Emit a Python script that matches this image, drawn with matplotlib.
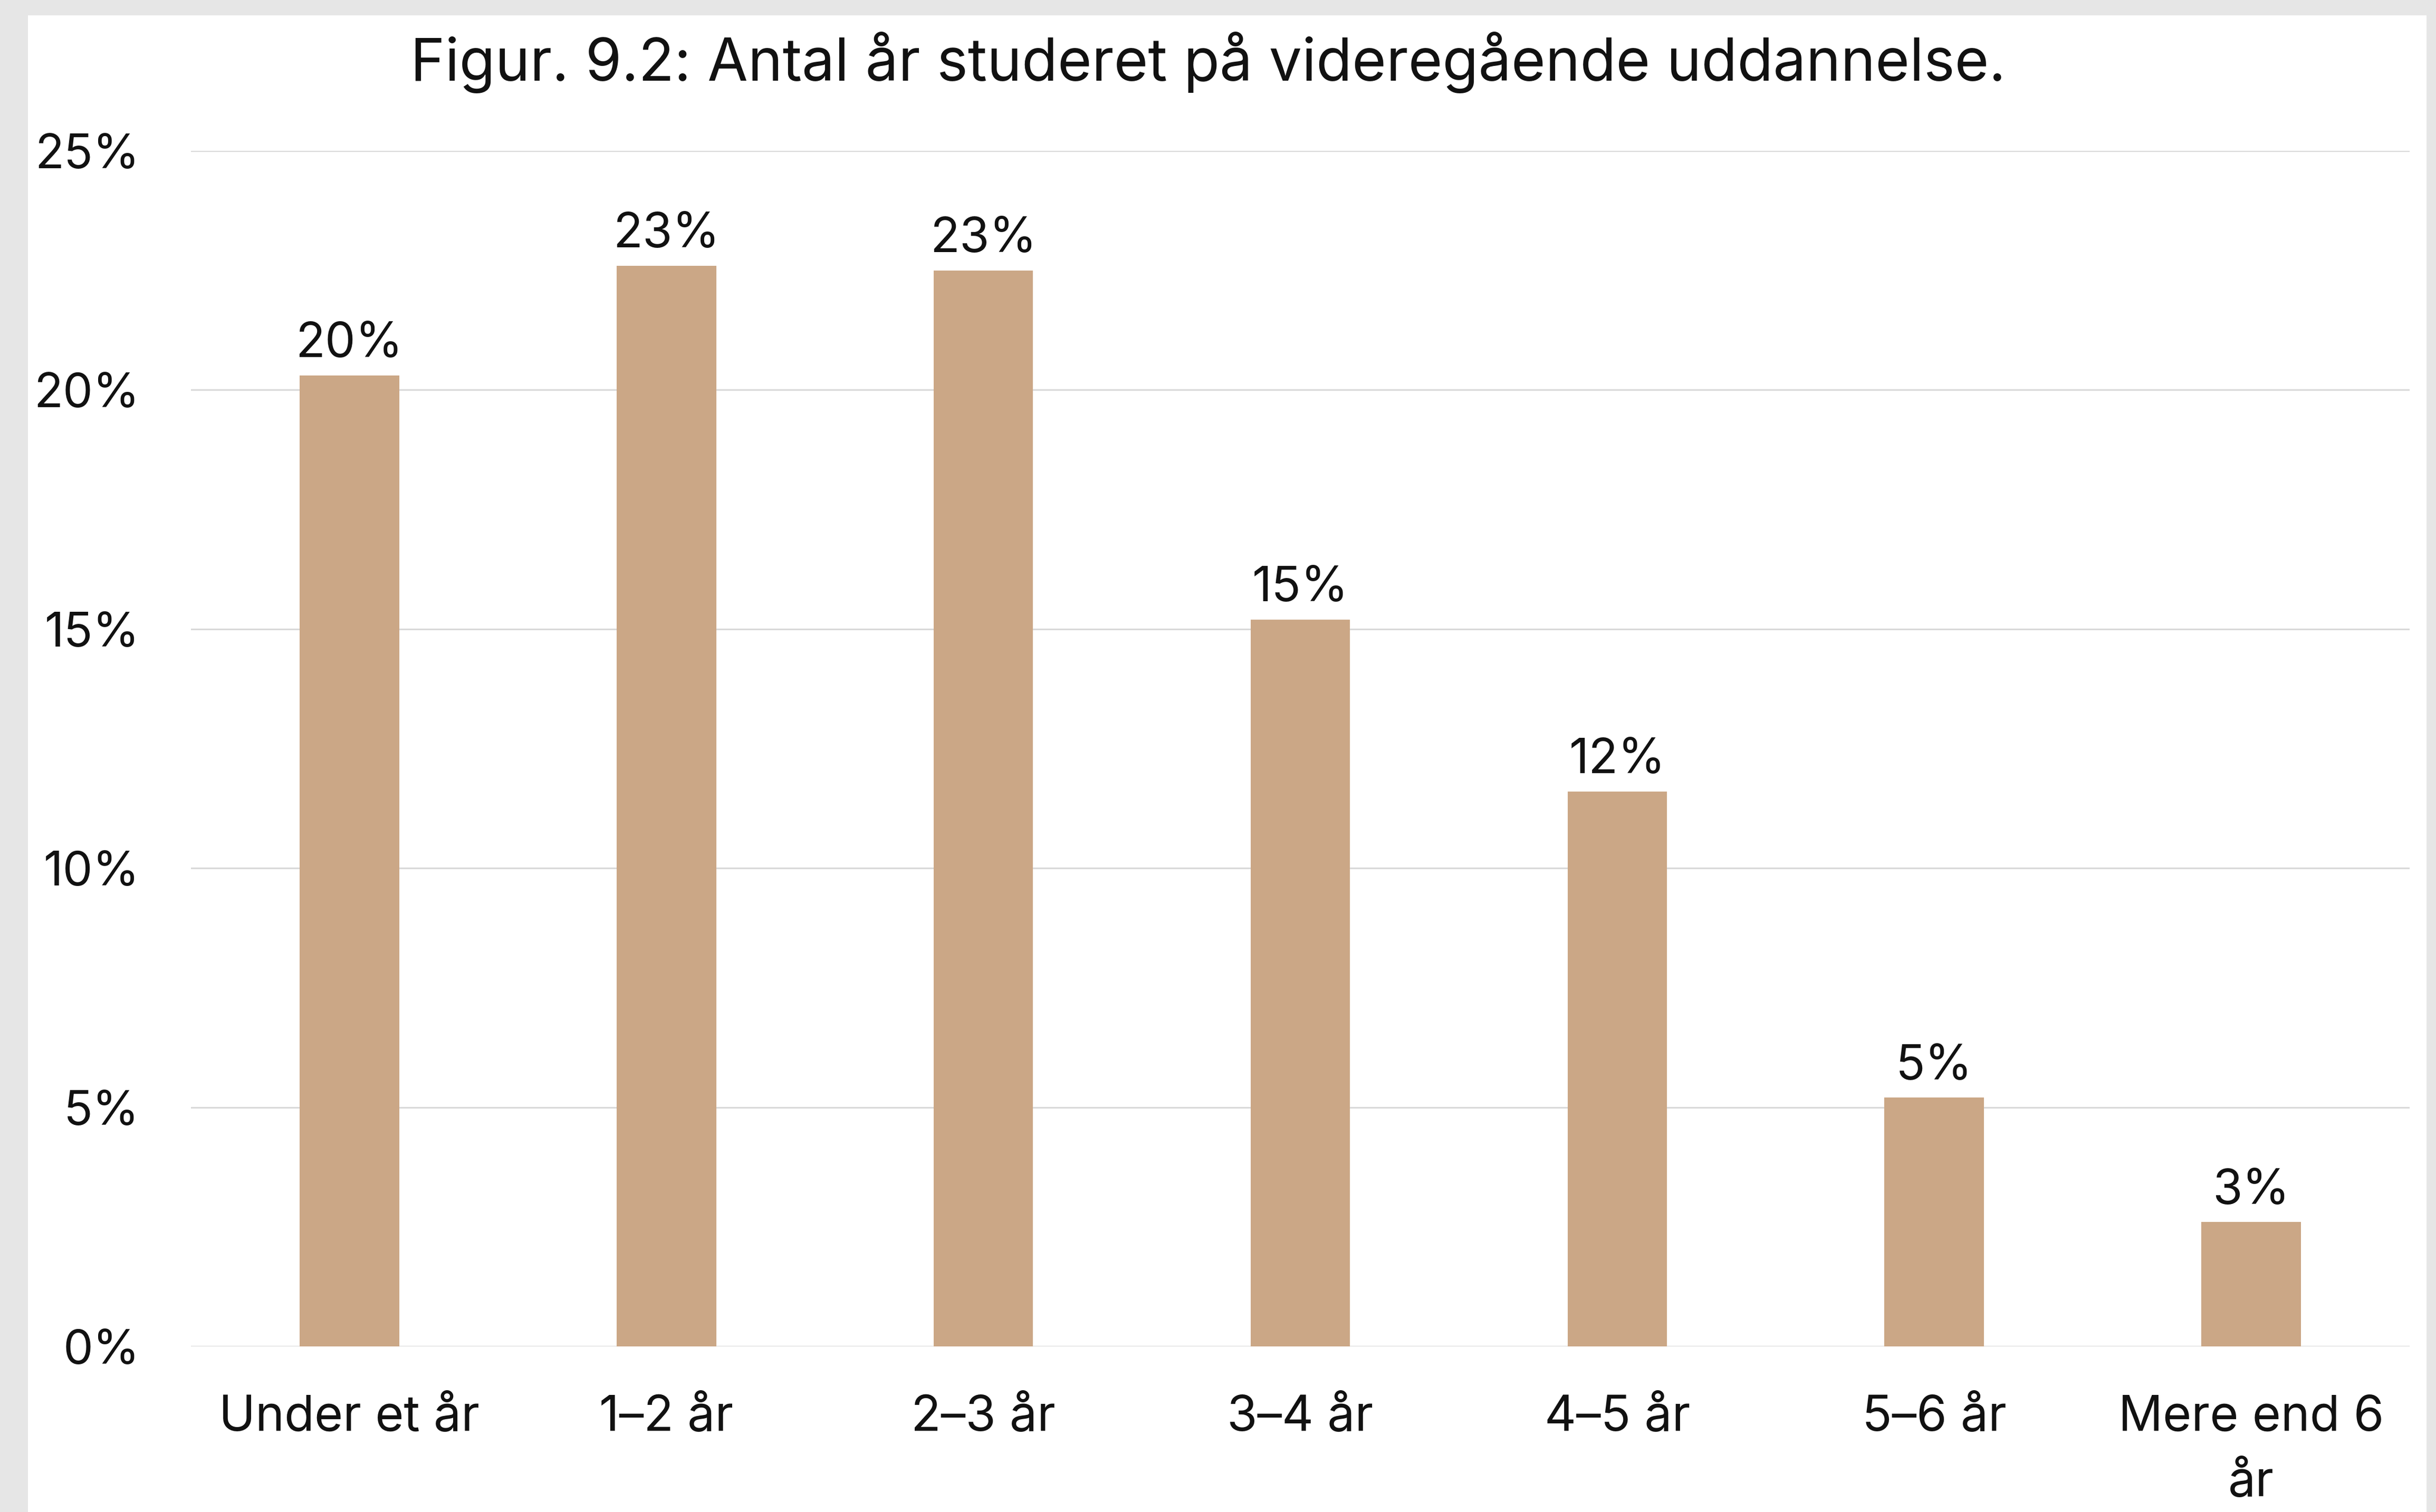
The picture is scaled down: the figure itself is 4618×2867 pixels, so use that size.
import matplotlib
matplotlib.use("Agg")
import matplotlib.pyplot as plt
from matplotlib.patches import Rectangle
from matplotlib.ticker import FuncFormatter, MultipleLocator

categories = ["Under et år", "1–2 år", "2–3 år", "3–4 år", "4–5 år", "5–6 år", "Mere end 6\når"]
values = [20.3, 22.6, 22.5, 15.2, 11.6, 5.2, 2.6]
labels = ["20%", "23%", "23%", "15%", "12%", "5%", "3%"]
title = "Figur. 9.2: Antal år studeret på videregående uddannelse."

FONT = ["Inter", "DejaVu Sans"]
plt.rcParams["font.family"] = FONT
TXT = "#111111"
BAR = "#CBA786"

W, H = 4618, 2867
fig = plt.figure(figsize=(W / 100, H / 100), dpi=100)
fig.patch.set_facecolor("#E6E6E6")
fig.patches.append(Rectangle((53 / W, 0), (4600 - 53) / W, 1 - 29 / H,
                             transform=fig.transFigure, facecolor="white",
                             edgecolor="none", zorder=-5))

ax = fig.add_axes([362 / W, 1 - 2553 / H, (4568 - 362) / W, (2553 - 286) / H])
ax.set_zorder(2)
ax.set_facecolor("none")
x = list(range(len(categories)))
ax.bar(x, values, width=0.314, color=BAR, zorder=3)
ax.set_xlim(-0.5, len(categories) - 0.5)
ax.set_ylim(0, 25)
ax.yaxis.set_major_locator(MultipleLocator(5))
ax.yaxis.set_major_formatter(FuncFormatter(lambda v, p: f"{v:.0f}%"))
ax.grid(axis="y", color="#D9D9D9", linewidth=2.2, zorder=0)
ax.set_axisbelow(True)
for s in ax.spines.values():
    s.set_visible(False)
ax.tick_params(axis="both", length=0, colors=TXT)
ax.tick_params(axis="y", pad=70, labelsize=65)
ax.tick_params(axis="x", pad=66, labelsize=67)
ax.set_xticks(x)
ax.set_xticklabels(categories, linespacing=1.55, va="top")

for xi, v, lab in zip(x, values, labels):
    ax.annotate(lab, (xi, v), xytext=(0, 25), textcoords="offset points",
                ha="center", va="baseline", fontsize=66, color=TXT)

fig.text(0.496, 1 - 153 / H, title, ha="center", va="baseline", fontsize=80, color=TXT)

fig.savefig("out.png", dpi=100, facecolor=fig.get_facecolor())
